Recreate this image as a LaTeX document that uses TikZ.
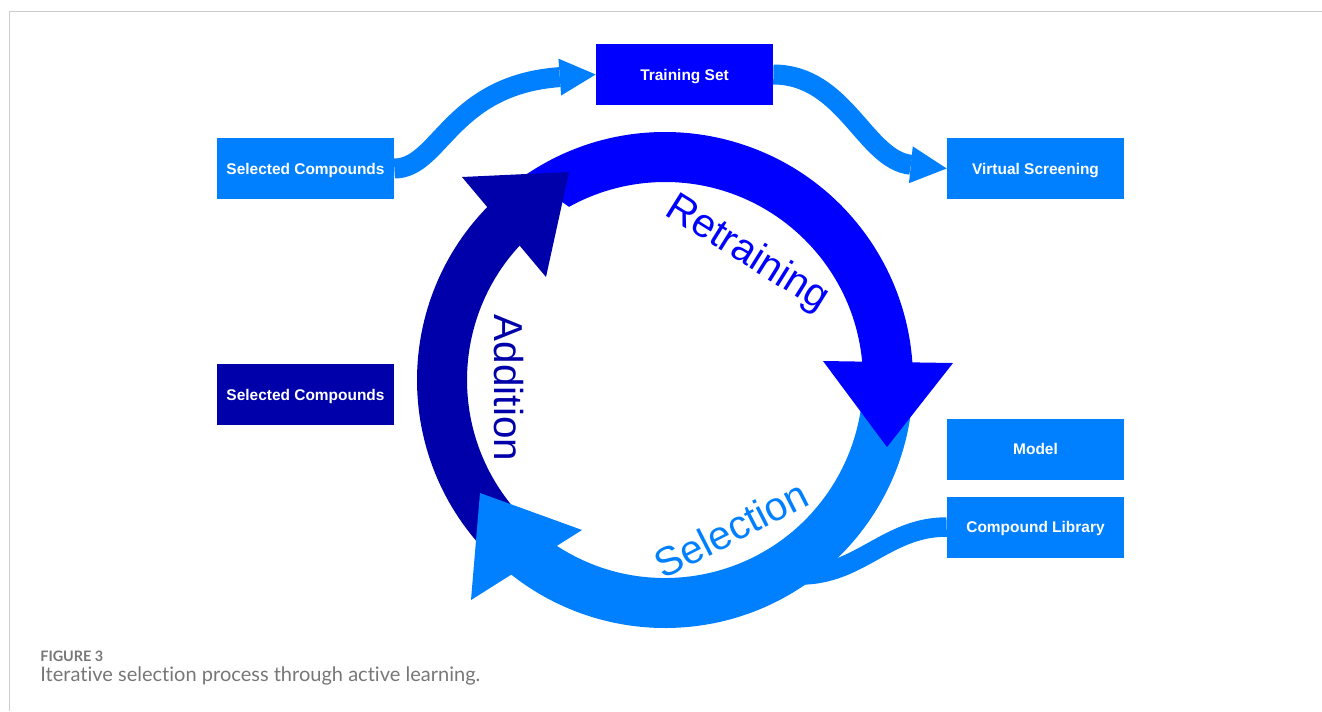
\documentclass[tikz,border=0pt]{standalone}
\usepackage{fontspec}
\setmainfont{Liberation Sans}
\newfontfamily\captionfont[Ligatures=NoCommon]{Lato}
\usetikzlibrary{arrows.meta}

\begin{document}
\begin{tikzpicture}[x=0.02cm, y=0.02cm,
	box/.style={fill=#1, text=white, font=\fontsize{8.8}{10}\selectfont\bfseries, minimum width=3.54cm, minimum height=1.22cm, inner sep=0pt, text height=1.5ex, text depth=0.25ex},
	flow/.style={draw=azure, line width=0.4cm, -{Triangle[width=0.74cm, length=0.72cm, line width=0pt]}},
	cyclelabel/.style={font=\fontsize{23}{26}\selectfont, inner sep=0pt}]
			\definecolor{azure}{HTML}{0080FF}
			\definecolor{pureblue}{HTML}{0000FF}
			\definecolor{navy}{HTML}{0000AA}
			\definecolor{framegray}{HTML}{CCCCCC}
			\definecolor{capgray}{HTML}{777777}
			\useasboundingbox (0,0) rectangle (1322,-711);
			% frame
			\draw[framegray, line width=0.02cm] (1322,-11.5) -- (9.5,-11.5) -- (9.5,-711);
			
			% boxes
			\node[box=azure] (selA) at (305.5,-168.5) {Selected Compounds};
			\node[box=pureblue] (train) at (684.5,-74.5) {Training Set};
			\node[box=azure] (screen) at (1035.5,-168.5) {Virtual Screening};
			\node[box=navy] (selB) at (305.5,-394.5) {Selected Compounds};
			\node[box=azure] (model) at (1035.5,-449) {Model};
			\node[box=azure] (library) at (1035.5,-527) {Compound Library};
			
			% flows
			\draw[flow] (selA.east) .. controls (440,-168.5) and (450,-85) .. (train.west);
			\draw[flow] (train.east) .. controls (845,-74.5) and (865,-160) .. (screen.west);
			\coordinate (merge) at (800,-575);
			\draw[azure, line width=0.39cm] (library.west) to[out=180,in=0] (merge);
			
			% cycle, bands run on under the heads
			\begin{scope}[shift={(665,-380)}]
				% Retraining
				\fill[pureblue] (124.5:248) arc[start angle=124.5, end angle=2, radius=248] -- (3:198) arc[start angle=3, end angle=119, radius=198] -- cycle;
				% Selection
				\fill[azure] (3:248) arc[start angle=3, end angle=-130, radius=248] -- (-125:198) arc[start angle=-125, end angle=3, radius=198] -- cycle;
				% Addition
				\fill[navy] (223:248) arc[start angle=223, end angle=134, radius=248] -- (135.5:198) arc[start angle=135.5, end angle=223, radius=198] -- cycle;
				% heads
				\fill[pureblue] (158,19) -- (288,17) -- (222,-67) -- cycle;
				\fill[azure] (-185,-113) -- (-83,-150) -- (-194,-220) -- cycle;
				\fill[navy] (-203,203) -- (-96,208) -- (-119,103) -- cycle;
			\end{scope}
			
			% labels
			\node[cyclelabel, text=pureblue, rotate=-32] (retrain) at (747,-254) {Retraining};
			\node[cyclelabel, text=azure, rotate=27] (select) at (731,-529) {Selection};
			\node[cyclelabel, text=navy, rotate=-90] (add) at (509,-388) {Addition};
			
			% caption
			\node[anchor=base west, inner sep=0pt, text=capgray, font=\captionfont\bfseries\fontsize{8.2}{10}\selectfont] (fig) at (40,-661.7) {FIGURE 3};
			\node[anchor=base west, inner sep=0pt, text=capgray, font=\captionfont\fontsize{11.4}{13}\selectfont] (cap) at (40,-681) {Iterative selection process through active learning.};
			
\end{tikzpicture}
\end{document}
